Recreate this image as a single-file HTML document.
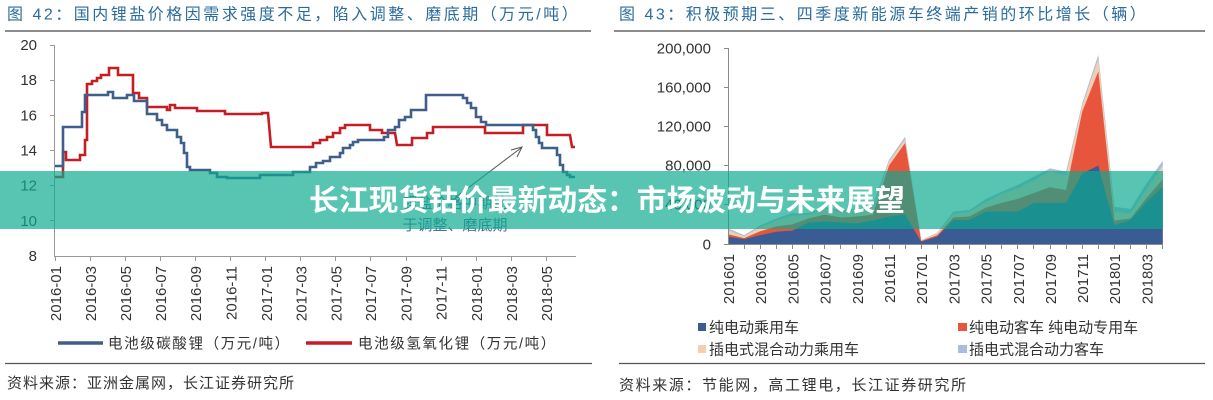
<!DOCTYPE html>
<html>
<head>
<meta charset="utf-8">
<style>
html,body{margin:0;padding:0;background:#fff;}
body{width:1213px;height:400px;overflow:hidden;}
svg{display:block;}
text{font-family:"Liberation Sans","Noto Sans CJK SC",sans-serif;}
</style>
</head>
<body>
<svg width="1213" height="400" viewBox="0 0 1213 400" xmlns="http://www.w3.org/2000/svg">
<rect x="0" y="0" width="1213" height="400" fill="#fff"/>

<!-- ============ LEFT CHART ============ -->
<text x="7" y="19.5" font-size="16" letter-spacing="2.5" fill="#2b6c9c">图 42：国内锂盐价格因需求强度不足，陷入调整、磨底期（万元/吨）</text>
<line x1="5" y1="31" x2="591" y2="31" stroke="#8c8c8c" stroke-width="2"/>

<!-- y axis -->
<g font-size="15" fill="#333" text-anchor="end">
<text x="37" y="50">20</text>
<text x="37" y="85.2">18</text>
<text x="37" y="120.3">16</text>
<text x="37" y="155.5">14</text>
<text x="37" y="190.7">12</text>
<text x="37" y="225.8">10</text>
<text x="37" y="261">8</text>
</g>
<g stroke="#999" stroke-width="1">
<line x1="54.5" y1="45" x2="54.5" y2="256"/>
<line x1="54" y1="256.5" x2="576" y2="256.5"/>
<line x1="50" y1="45.5" x2="54" y2="45.5"/>
<line x1="50" y1="80.5" x2="54" y2="80.5"/>
<line x1="50" y1="115.5" x2="54" y2="115.5"/>
<line x1="50" y1="150.5" x2="54" y2="150.5"/>
<line x1="50" y1="185.5" x2="54" y2="185.5"/>
<line x1="50" y1="220.5" x2="54" y2="220.5"/>
<line x1="55.5" y1="256" x2="55.5" y2="261"/>
<line x1="90.5" y1="256" x2="90.5" y2="261"/>
<line x1="125.5" y1="256" x2="125.5" y2="261"/>
<line x1="160.5" y1="256" x2="160.5" y2="261"/>
<line x1="195.5" y1="256" x2="195.5" y2="261"/>
<line x1="230.5" y1="256" x2="230.5" y2="261"/>
<line x1="265.5" y1="256" x2="265.5" y2="261"/>
<line x1="300.5" y1="256" x2="300.5" y2="261"/>
<line x1="335.5" y1="256" x2="335.5" y2="261"/>
<line x1="370.5" y1="256" x2="370.5" y2="261"/>
<line x1="406.5" y1="256" x2="406.5" y2="261"/>
<line x1="441.5" y1="256" x2="441.5" y2="261"/>
<line x1="476.5" y1="256" x2="476.5" y2="261"/>
<line x1="511.5" y1="256" x2="511.5" y2="261"/>
<line x1="546.5" y1="256" x2="546.5" y2="261"/>
</g>
<g font-size="15" fill="#333" text-anchor="end">
<text transform="translate(61,266) rotate(-90)">2016-01</text>
<text transform="translate(96,266) rotate(-90)">2016-03</text>
<text transform="translate(131,266) rotate(-90)">2016-05</text>
<text transform="translate(166,266) rotate(-90)">2016-07</text>
<text transform="translate(201,266) rotate(-90)">2016-09</text>
<text transform="translate(236.5,266) rotate(-90)">2016-11</text>
<text transform="translate(272,266) rotate(-90)">2017-01</text>
<text transform="translate(306.5,266) rotate(-90)">2017-03</text>
<text transform="translate(341.5,266) rotate(-90)">2017-05</text>
<text transform="translate(376,266) rotate(-90)">2017-07</text>
<text transform="translate(411.5,266) rotate(-90)">2017-09</text>
<text transform="translate(446.5,266) rotate(-90)">2017-11</text>
<text transform="translate(482,266) rotate(-90)">2018-01</text>
<text transform="translate(517,266) rotate(-90)">2018-03</text>
<text transform="translate(552,266) rotate(-90)">2018-05</text>
</g>

<!-- annotation -->
<g font-size="15" fill="#4a6f96" text-anchor="middle">
<text x="455" y="208">锂盐价格中期处</text>
<text x="455" y="230">于调整、磨底期</text>
</g>
<g stroke="#555" stroke-width="1" fill="none">
<line x1="456" y1="197" x2="521" y2="148"/>
<polyline points="511,150 522,147 517,157"/>
</g>

<!-- series -->
<polyline fill="none" stroke="#c41e24" stroke-width="2.6" stroke-linejoin="miter" points="55,177 63,177 63,152 66,152 66,160 80,160 80,155 85,155 85,140 87,140 87,84 92,84 92,81 97,81 97,78 101,78 101,75 109,75 109,68 118,68 118,75 133,75 133,93 139,93 139,98 147,98 147,107 167,107 167,110 170,110 170,105 175,105 175,108 197,108 197,111 225,111 225,114 262,114 262,113 268,113 271,147 313,147 313,143 320,143 320,140 327,140 327,137 333,137 333,133 340,133 340,128 345,128 345,125 370,125 370,130 382,130 382,133 395,133 397,145 412,145 412,138 427,138 427,133 433,133 433,127 485,127 485,133 523,133 523,125 547,125 547,135 570,135 572,147 575,147"/>
<polyline fill="none" stroke="#3e5f8c" stroke-width="2.6" stroke-linejoin="miter" points="55,166 63,166 63,127 82,127 82,112 85,112 85,95 108,95 108,92 113,92 113,98 127,98 127,95 134,95 134,101 147,101 147,114 157,114 157,120 162,120 162,125 167,125 167,130 177,130 177,137 181,137 181,143 184,143 184,153 187,153 187,167 190,167 190,170 210,170 210,173 217,173 217,177 227,177 227,178 260,178 260,175 293,175 293,172 310,172 310,167 316,167 316,163 323,163 323,161 330,161 330,157 340,157 340,153 343,153 343,148 350,148 350,145 353,145 353,142 358,142 358,140 384,140 384,137 388,137 388,130 395,130 395,127 399,127 399,120 405,120 405,117 411,117 411,110 426,110 426,95 463,95 463,98 467,98 467,103 471,103 471,108 476,108 476,117 481,117 481,122 486,122 486,125 533,125 533,130 536,130 536,137 539,137 539,143 542,143 542,148 557,148 557,155 560,155 560,165 563,165 563,172 567,172 567,175 570,175 570,177 575,177"/>

<!-- legend -->
<line x1="58" y1="343" x2="103" y2="343" stroke="#3e5f8c" stroke-width="3.5"/>
<text x="108" y="348.5" font-size="14.5" letter-spacing="1.6" fill="#333">电池级碳酸锂（万元/吨）</text>
<line x1="306" y1="343" x2="352" y2="343" stroke="#c41e24" stroke-width="3.5"/>
<text x="358" y="348.5" font-size="14.5" letter-spacing="1.6" fill="#333">电池级氢氧化锂（万元/吨）</text>

<line x1="5" y1="363.5" x2="592" y2="363.5" stroke="#555" stroke-width="1.2"/>
<text x="7" y="388" font-size="15" letter-spacing="1" fill="#333">资料来源：亚洲金属网，长江证券研究所</text>

<!-- ============ RIGHT CHART ============ -->
<text x="619" y="19.5" font-size="16" letter-spacing="2.5" fill="#2b6c9c">图 43：积极预期三、四季度新能源车终端产销的环比增长（辆）</text>
<line x1="614" y1="31" x2="1205" y2="31" stroke="#8c8c8c" stroke-width="2"/>

<!-- areas -->
<polygon fill="#a8bfdc" points="728,228.32 744.1,235.18 760.2,225.38 776.3,218.52 792.4,213.13 808.5,213.13 824.6,206.76 840.7,209.99 856.8,209.01 872.9,205 889,159.72 905.1,136.69 921.2,240.08 937.3,232.63 953.4,211.66 969.5,209.99 985.6,199.31 1001.7,191.67 1017.8,185 1033.9,176.67 1050,168.34 1066.1,171.68 1082.2,103.37 1098.3,54.86 1114.4,206.76 1130.5,209.01 1146.6,183.24 1162.7,160.7 1162.7,244 728,244"/>
<polygon fill="#f5cdb0" points="728,230.28 744.1,236.16 760.2,227.34 776.3,220.48 792.4,215.58 808.5,214.6 824.6,208.72 840.7,211.66 856.8,210.68 872.9,207.74 889,161.68 905.1,139.14 921.2,240.37 937.3,233.22 953.4,213.62 969.5,211.66 985.6,201.86 1001.7,194.02 1017.8,188.14 1033.9,180.3 1050,171.48 1066.1,175.4 1082.2,105.82 1098.3,58.78 1114.4,211.66 1130.5,213.62 1146.6,189.12 1162.7,165.6 1162.7,244 728,244"/>
<polygon fill="#e8553d" points="728,234.2 744.1,238.12 760.2,231.26 776.3,226.36 792.4,224.4 808.5,218.52 824.6,214.6 840.7,217.54 856.8,216.56 872.9,214.6 889,165.6 905.1,143.06 921.2,241.06 937.3,235.18 953.4,217.54 969.5,216.56 985.6,207.74 1001.7,202.84 1017.8,198.92 1033.9,193.04 1050,187.16 1066.1,190.1 1082.2,111.7 1098.3,71.52 1114.4,220.48 1130.5,218.52 1146.6,197.94 1162.7,179.32 1162.7,244 728,244"/>
<polygon fill="#3a5b93" points="728,236.65 744.1,239.1 760.2,235.18 776.3,231.75 792.4,230.67 808.5,222.44 824.6,221.46 840.7,222.44 856.8,223.42 872.9,220.48 889,216.56 905.1,214.6 921.2,241.65 937.3,236.65 953.4,219.99 969.5,219.99 985.6,211.66 1001.7,211.66 1017.8,211.66 1033.9,202.84 1050,202.84 1066.1,202.84 1082.2,173.44 1098.3,165.6 1114.4,224.99 1130.5,219.99 1146.6,201.86 1162.7,186.67 1162.7,244 728,244"/>

<!-- axes -->
<g stroke="#8a8a8a" stroke-width="1">
<line x1="728.5" y1="48" x2="728.5" y2="244"/>
<line x1="728" y1="244.5" x2="1163" y2="244.5"/>
<line x1="724" y1="48.5" x2="728" y2="48.5"/>
<line x1="724" y1="87.5" x2="728" y2="87.5"/>
<line x1="724" y1="126.5" x2="728" y2="126.5"/>
<line x1="724" y1="165.5" x2="728" y2="165.5"/>
<line x1="724" y1="204.5" x2="728" y2="204.5"/>
<line x1="724" y1="244.5" x2="728" y2="244.5"/>
<line x1="744.5" y1="244" x2="744.5" y2="249"/>
<line x1="760.5" y1="244" x2="760.5" y2="249"/>
<line x1="776.5" y1="244" x2="776.5" y2="249"/>
<line x1="792.5" y1="244" x2="792.5" y2="249"/>
<line x1="808.5" y1="244" x2="808.5" y2="249"/>
<line x1="824.5" y1="244" x2="824.5" y2="249"/>
<line x1="840.5" y1="244" x2="840.5" y2="249"/>
<line x1="856.5" y1="244" x2="856.5" y2="249"/>
<line x1="872.5" y1="244" x2="872.5" y2="249"/>
<line x1="889.5" y1="244" x2="889.5" y2="249"/>
<line x1="905.5" y1="244" x2="905.5" y2="249"/>
<line x1="921.5" y1="244" x2="921.5" y2="249"/>
<line x1="937.5" y1="244" x2="937.5" y2="249"/>
<line x1="953.5" y1="244" x2="953.5" y2="249"/>
<line x1="969.5" y1="244" x2="969.5" y2="249"/>
<line x1="985.5" y1="244" x2="985.5" y2="249"/>
<line x1="1001.5" y1="244" x2="1001.5" y2="249"/>
<line x1="1017.5" y1="244" x2="1017.5" y2="249"/>
<line x1="1033.5" y1="244" x2="1033.5" y2="249"/>
<line x1="1050.5" y1="244" x2="1050.5" y2="249"/>
<line x1="1066.5" y1="244" x2="1066.5" y2="249"/>
<line x1="1082.5" y1="244" x2="1082.5" y2="249"/>
<line x1="1098.5" y1="244" x2="1098.5" y2="249"/>
<line x1="1114.5" y1="244" x2="1114.5" y2="249"/>
<line x1="1130.5" y1="244" x2="1130.5" y2="249"/>
<line x1="1146.5" y1="244" x2="1146.5" y2="249"/>
<line x1="1162.5" y1="244" x2="1162.5" y2="249"/>
</g>
<g font-size="15" fill="#333" text-anchor="end">
<text x="711" y="53.5">200,000</text>
<text x="711" y="92.5">160,000</text>
<text x="711" y="131.5">120,000</text>
<text x="711" y="170.5">80,000</text>
<text x="711" y="209.5">40,000</text>
<text x="711" y="249.5">0</text>
</g>
<g font-size="15" fill="#333" text-anchor="end">
<text transform="translate(734,254) rotate(-90)">201601</text>
<text transform="translate(766,254) rotate(-90)">201603</text>
<text transform="translate(798.5,254) rotate(-90)">201605</text>
<text transform="translate(830.5,254) rotate(-90)">201607</text>
<text transform="translate(863,254) rotate(-90)">201609</text>
<text transform="translate(895,254) rotate(-90)">201611</text>
<text transform="translate(927,254) rotate(-90)">201701</text>
<text transform="translate(959.5,254) rotate(-90)">201703</text>
<text transform="translate(991.5,254) rotate(-90)">201705</text>
<text transform="translate(1024,254) rotate(-90)">201707</text>
<text transform="translate(1056,254) rotate(-90)">201709</text>
<text transform="translate(1088,254) rotate(-90)">201711</text>
<text transform="translate(1120,254) rotate(-90)">201801</text>
<text transform="translate(1152.5,254) rotate(-90)">201803</text>
</g>

<!-- legend -->
<rect x="698" y="323" width="8" height="8" fill="#3a5b93"/>
<text x="709" y="332.5" font-size="15" fill="#333">纯电动乘用车</text>
<rect x="958" y="323" width="9" height="8" fill="#e8553d"/>
<text x="969" y="332.5" font-size="15" fill="#333">纯电动客车 纯电动专用车</text>
<rect x="698" y="345" width="8" height="8" fill="#f5cdb0"/>
<text x="709" y="354.5" font-size="15" fill="#333">插电式混合动力乘用车</text>
<rect x="958" y="345" width="9" height="8" fill="#a8bfdc"/>
<text x="969" y="354.5" font-size="15" fill="#333">插电式混合动力客车</text>

<line x1="619" y1="363.5" x2="1205" y2="363.5" stroke="#555" stroke-width="1.2"/>
<text x="619" y="390" font-size="15" letter-spacing="1.6" fill="#333">资料来源：节能网，高工锂电，长江证券研究所</text>

<!-- ============ BANNER ============ -->
<rect x="0" y="171" width="1163" height="58" fill="rgb(11,169,143)" fill-opacity="0.685"/>
<text x="607" y="210.5" font-size="29.8" font-weight="bold" fill="#fff" text-anchor="middle" style="font-family:'Noto Sans CJK SC','WenQuanYi Zen Hei',sans-serif;">长江现货钴价最新动态：市场波动与未来展望</text>
</svg>
</body>
</html>
